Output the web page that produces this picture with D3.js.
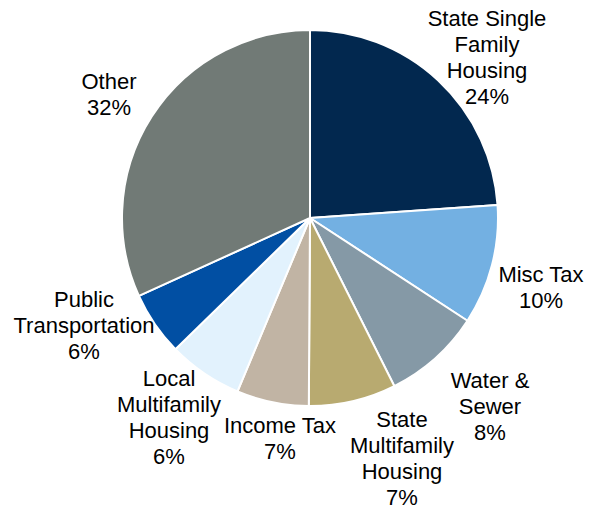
<!DOCTYPE html>
<html>
<head>
<meta charset="utf-8">
<script src="https://cdn.jsdelivr.net/npm/d3@7"></script>
<style>
  html, body { margin: 0; padding: 0; background: #ffffff; }
  svg { display: block; }
  text { font-family: "Liberation Sans", Arial, sans-serif; font-size: 22px; fill: #000; }
</style>
</head>
<body>
<svg id="chart" width="592" height="509"></svg>
<script>
// Data
const categories = [
  "State Single Family Housing",
  "Misc Tax",
  "Water & Sewer",
  "State Multifamily Housing",
  "Income Tax",
  "Local Multifamily Housing",
  "Public Transportation",
  "Other"
];
const values = [23.9, 10.3, 8.4, 7.5, 6.2, 6.4, 5.5, 31.8];
const percentLabels = ["24%", "10%", "8%", "7%", "7%", "6%", "6%", "32%"];
const labelLines = [
  ["State Single", "Family", "Housing"],
  ["Misc Tax"],
  ["Water &", "Sewer"],
  ["State", "Multifamily", "Housing"],
  ["Income Tax"],
  ["Local", "Multifamily", "Housing"],
  ["Public", "Transportation"],
  ["Other"]
];
const colors = ["#02284f", "#73b0e2", "#8599a6", "#b8aa70", "#c1b4a4", "#e2f2fd", "#014fa3", "#717a76"];

// Label anchor (center x, first baseline y)
const labelPos = [
  [487, 26], [541, 282], [490, 388], [402, 427],
  [280, 433], [169, 386], [84, 307], [109, 89]
];

const svg = d3.select("#chart");
const cx = 310, cy = 218, r = 188;

const pie = d3.pie().sort(null).value(d => d)(values);
const arc = d3.arc().innerRadius(0).outerRadius(r);

const g = svg.append("g").attr("transform", `translate(${cx},${cy})`);
g.selectAll("path")
  .data(pie)
  .join("path")
  .attr("d", arc)
  .attr("fill", (d, i) => colors[i])
  .attr("stroke", "#ffffff")
  .attr("stroke-width", 2)
  .attr("stroke-linejoin", "round");

const lineH = 26;
const labels = svg.append("g");
categories.forEach((c, i) => {
  const lines = labelLines[i].concat([percentLabels[i]]);
  const t = labels.append("text")
    .attr("text-anchor", "middle")
    .attr("x", labelPos[i][0])
    .attr("y", labelPos[i][1]);
  lines.forEach((ln, k) => {
    t.append("tspan")
      .attr("x", labelPos[i][0])
      .attr("dy", k === 0 ? 0 : lineH)
      .text(ln);
  });
});
</script>
</body>
</html>
